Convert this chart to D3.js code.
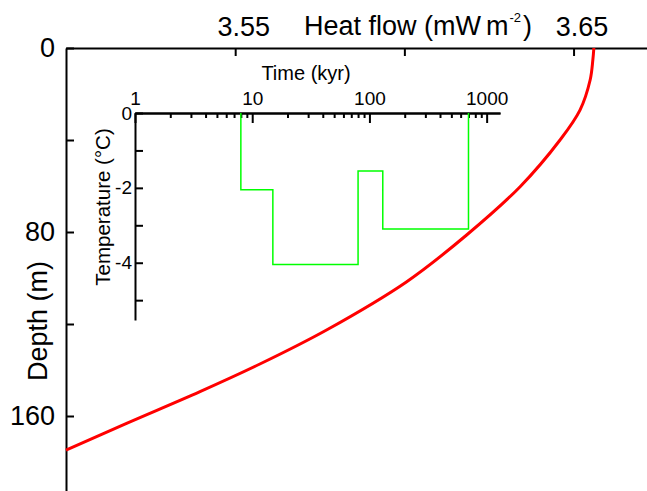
<!DOCTYPE html>
<html>
<head>
<meta charset="utf-8">
<script src="https://cdnjs.cloudflare.com/ajax/libs/d3/7.8.5/d3.min.js"></script>
<style>
  body { margin: 0; background: #fff; }
  text { font-family: "Liberation Sans", Arial, sans-serif; fill: #000; }
</style>
</head>
<body>
<div id="chart"></div>
<script>
// heat flow profile (red curve)
var heatFlow = [3.500, 3.5179, 3.5396, 3.5573, 3.5770, 3.6007, 3.6184, 3.6342, 3.6460, 3.6519, 3.6549, 3.6557, 3.6560];
var depth = [174.8, 163.2, 149.4, 137.4, 122.6, 101.6, 81.3, 60.3, 40.0, 27.0, 13.9, 5.2, 0];

// surface temperature history (green steps)
var stepTimes = [8, 15, 80, 130, 700];   // kyr, step edges
var stepTemps = [-2.05, -4.05, -1.55, -3.1];

// tick values / labels
var heatTicks = [3.55, 3.60, 3.65];
var heatLabels = ["3.55", "", "3.65"];
var depthTicks = [0, 40, 80, 120, 160];
var depthLabels = ["0", "", "80", "", "160"];
var timeMajor = [1, 10, 100, 1000];
var timeMinor = [2, 3, 4, 5, 6, 7, 8, 9, 20, 30, 40, 50, 60, 70, 80, 90, 200, 300, 400, 500, 600, 700, 800, 900];
var tempTicks = [0, -1, -2, -3, -4, -5];
var tempLabels = ["0", "", "-2", "", "-4", ""];

var svgWidth = 647;
var svgHeight = 491;

var svg = d3.select("#chart")
  .append("svg")
  .attr("width", svgWidth)
  .attr("height", svgHeight);

// main scales
var xHeat = d3.scaleLinear().domain([3.5, 3.672]).range([66, 648]);
var yDepth = d3.scaleLinear().domain([0, 193]).range([48, 491.9]);

// inset scales
var xTime = d3.scaleLog().domain([1, 1300]).range([135, 500]);
var yTemp = d3.scaleLinear().domain([0, -5.53]).range([113, 320]);

function styleAxis(g, fontSize) {
  g.select(".domain").attr("stroke", "#000").attr("stroke-width", 2);
  g.selectAll(".tick line").attr("stroke", "#000").attr("stroke-width", 2);
  g.selectAll("text")
    .attr("font-family", "'Liberation Sans', Arial, sans-serif")
    .attr("font-size", fontSize)
    .attr("fill", "#000");
}

// ----- main chart -----
var topAxis = svg.append("g")
  .attr("transform", "translate(0, 48)")
  .call(d3.axisTop(xHeat)
    .tickValues(heatTicks)
    .tickSizeInner(-8)
    .tickSizeOuter(0)
    .tickPadding(12)
    .tickFormat((d, i) => heatLabels[i]));
styleAxis(topAxis, 27);
topAxis.selectAll("text").attr("dx", 8);

var leftAxis = svg.append("g")
  .attr("transform", "translate(66, 0)")
  .call(d3.axisLeft(yDepth)
    .tickValues(depthTicks)
    .tickSizeInner(-8)
    .tickSizeOuter(0)
    .tickPadding(11)
    .tickFormat((d, i) => depthLabels[i]));
styleAxis(leftAxis, 27);

var title = svg.append("text")
  .attr("x", 304)
  .attr("y", 35)
  .attr("font-size", 27);
title.append("tspan").text("Heat flow (mW");
title.append("tspan").attr("dx", 5).text("m");
title.append("tspan").attr("font-size", 13).attr("dy", -13).attr("dx", 1).text("-2");
title.append("tspan").attr("dy", 13).attr("dx", 2).text(")");

svg.append("text")
  .attr("transform", "translate(38, 321) rotate(-90)")
  .attr("text-anchor", "middle")
  .attr("dy", "0.35em")
  .attr("font-size", 27)
  .text("Depth (m)");

var heatData = heatFlow.map((q, i) => ({ q: q, d: depth[i] }));

svg.append("path")
  .datum(heatData)
  .attr("fill", "none")
  .attr("stroke", "#ff0000")
  .attr("stroke-width", 3)
  .attr("d", d3.line()
    .x(d => xHeat(d.q))
    .y(d => yDepth(d.d))
    .curve(d3.curveCatmullRom.alpha(0.5)));

// ----- inset -----
var insetMinor = svg.append("g")
  .attr("transform", "translate(0, 113)")
  .call(d3.axisTop(xTime)
    .tickValues(timeMinor)
    .tickSizeInner(-5)
    .tickSizeOuter(0)
    .tickFormat(""));
styleAxis(insetMinor, 19);

var insetTop = svg.append("g")
  .attr("transform", "translate(0, 113)")
  .call(d3.axisTop(xTime)
    .tickValues(timeMajor)
    .tickSizeInner(-10)
    .tickSizeOuter(0)
    .tickPadding(8)
    .tickFormat(d3.format("d")));
styleAxis(insetTop, 19);

var insetLeft = svg.append("g")
  .attr("transform", "translate(135, 0)")
  .call(d3.axisLeft(yTemp)
    .tickValues(tempTicks)
    .tickSizeInner(-8)
    .tickSizeOuter(0)
    .tickPadding(3)
    .tickFormat((d, i) => tempLabels[i]));
styleAxis(insetLeft, 19);

svg.append("text")
  .attr("x", 306)
  .attr("y", 80)
  .attr("text-anchor", "middle")
  .attr("font-size", 20)
  .text("Time (kyr)");

svg.append("text")
  .attr("transform", "translate(103, 207) rotate(-90)")
  .attr("text-anchor", "middle")
  .attr("dy", "0.35em")
  .attr("font-size", 20.5)
  .text("Temperature (°C)");

// with stepAfter each level runs to the next time edge
var stepLine = [{ t: stepTimes[0], v: 0 }];
for (var i = 0; i < stepTemps.length; i++) {
  stepLine.push({ t: stepTimes[i], v: stepTemps[i] });
}
stepLine.push({ t: stepTimes[stepTimes.length - 1], v: stepTemps[stepTemps.length - 1] });
stepLine.push({ t: stepTimes[stepTimes.length - 1], v: 0 });

svg.append("path")
  .datum(stepLine)
  .attr("fill", "none")
  .attr("stroke", "#00ff00")
  .attr("stroke-width", 1.5)
  .attr("d", d3.line()
    .x(d => xTime(d.t))
    .y(d => yTemp(d.v))
    .curve(d3.curveStepAfter));
</script>
</body>
</html>
